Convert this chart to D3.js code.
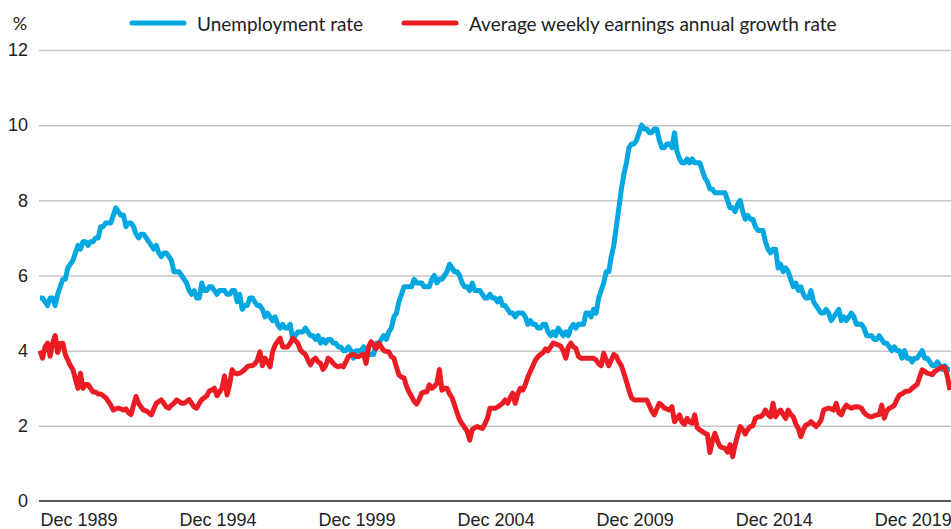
<!DOCTYPE html>
<html>
<head>
<meta charset="utf-8">
<script src="https://cdn.jsdelivr.net/npm/d3@7"></script>
<style>
  html, body { margin: 0; padding: 0; background: #fff; }
  svg { display: block; font-family: Lato, "Open Sans", sans-serif; }
  .grid line { stroke: #c6c6c6; stroke-width: 1.5; }
  .tick-label { font-size: 18px; fill: #222; }
  .legend-label { font-size: 19px; fill: #222; }
</style>
</head>
<body>
<div id="chart"></div>
<script>
// Monthly values, Dec 1989 .. Dec 2019 (361 months)
const seriesNames = ["Unemployment rate", "Average weekly earnings annual growth rate"];
const seriesColors = ["#00a7e1", "#ec1c24"];

const unemployment = [
  5.4,
  5.4, 5.3, 5.2, 5.4, 5.4, 5.2, 5.5, 5.7, 5.9, 5.9, 6.2, 6.3,
  6.4, 6.6, 6.8, 6.7, 6.9, 6.9, 6.8, 6.9, 6.9, 7.0, 7.0, 7.3,
  7.3, 7.4, 7.4, 7.4, 7.6, 7.8, 7.7, 7.6, 7.6, 7.3, 7.4, 7.4,
  7.3, 7.1, 7.0, 7.1, 7.1, 7.0, 6.9, 6.8, 6.7, 6.8, 6.6, 6.5,
  6.6, 6.6, 6.5, 6.4, 6.1, 6.1, 6.1, 6.0, 5.9, 5.8, 5.6, 5.5,
  5.6, 5.4, 5.4, 5.8, 5.6, 5.6, 5.7, 5.7, 5.6, 5.5, 5.6, 5.6,
  5.6, 5.5, 5.5, 5.6, 5.6, 5.3, 5.5, 5.1, 5.2, 5.2, 5.4, 5.4,
  5.3, 5.2, 5.2, 5.1, 4.9, 5.0, 4.9, 4.8, 4.9, 4.7, 4.6, 4.7,
  4.6, 4.6, 4.7, 4.3, 4.4, 4.5, 4.5, 4.5, 4.6, 4.5, 4.4, 4.4,
  4.3, 4.4, 4.2, 4.3, 4.2, 4.3, 4.3, 4.2, 4.2, 4.1, 4.1, 4.0,
  4.0, 4.1, 4.0, 3.8, 4.0, 4.0, 4.0, 4.1, 3.9, 3.9, 3.9, 3.9,
  4.2, 4.2, 4.3, 4.4, 4.3, 4.5, 4.6, 4.9, 5.0, 5.3, 5.5, 5.7,
  5.7, 5.7, 5.7, 5.9, 5.8, 5.8, 5.8, 5.7, 5.7, 5.7, 5.9, 6.0,
  5.8, 5.9, 5.9, 6.0, 6.1, 6.3, 6.2, 6.1, 6.1, 6.0, 5.8, 5.7,
  5.7, 5.6, 5.8, 5.6, 5.6, 5.6, 5.5, 5.4, 5.4, 5.5, 5.4, 5.4,
  5.3, 5.4, 5.2, 5.2, 5.1, 5.0, 5.0, 4.9, 5.0, 5.0, 5.0, 4.9,
  4.7, 4.8, 4.7, 4.7, 4.6, 4.6, 4.7, 4.7, 4.5, 4.4, 4.5, 4.4,
  4.6, 4.5, 4.4, 4.5, 4.4, 4.6, 4.7, 4.6, 4.7, 4.7, 4.7, 5.0,
  5.0, 4.9, 5.1, 5.0, 5.4, 5.6, 5.8, 6.1, 6.1, 6.5, 6.8, 7.3,
  7.8, 8.3, 8.7, 9.0, 9.4, 9.5, 9.5, 9.6, 9.8, 10.0, 9.9, 9.9,
  9.8, 9.8, 9.9, 9.9, 9.6, 9.4, 9.4, 9.5, 9.5, 9.4, 9.8, 9.3,
  9.1, 9.0, 9.0, 9.1, 9.0, 9.1, 9.0, 9.0, 9.0, 8.8, 8.6, 8.5,
  8.3, 8.3, 8.2, 8.2, 8.2, 8.2, 8.2, 8.0, 7.8, 7.8, 7.7, 7.9,
  8.0, 7.7, 7.5, 7.6, 7.5, 7.5, 7.3, 7.2, 7.2, 7.2, 6.9, 6.7,
  6.6, 6.7, 6.7, 6.2, 6.3, 6.1, 6.2, 6.1, 5.9, 5.7, 5.8, 5.6,
  5.7, 5.5, 5.4, 5.4, 5.6, 5.3, 5.2, 5.1, 5.0, 5.0, 5.1, 5.0,
  4.8, 4.9, 5.0, 5.1, 4.8, 4.9, 4.8, 4.9, 5.0, 4.9, 4.7, 4.7,
  4.7, 4.6, 4.4, 4.4, 4.4, 4.3, 4.3, 4.4, 4.3, 4.2, 4.2, 4.1,
  4.0, 4.1, 4.0, 4.0, 3.8, 4.0, 3.8, 3.8, 3.7, 3.8, 3.8, 3.9,
  4.0, 3.8, 3.8, 3.7, 3.6, 3.6, 3.7, 3.6, 3.5, 3.6, 3.5, 3.5
];

const earningsGrowth = [
  4.0,
  3.8, 4.1, 4.2, 3.85, 4.2, 4.4, 3.95, 4.2, 4.2, 3.9, 3.75, 3.6,
  3.5, 3.25, 3.0, 3.4, 3.0, 3.1, 3.1, 3.0, 2.9, 2.9, 2.85, 2.85,
  2.8, 2.75, 2.65, 2.55, 2.42, 2.45, 2.47, 2.45, 2.42, 2.45, 2.35, 2.3,
  2.55, 2.78, 2.6, 2.5, 2.42, 2.4, 2.35, 2.29, 2.45, 2.6, 2.65, 2.69,
  2.6, 2.5, 2.47, 2.55, 2.6, 2.69, 2.65, 2.6, 2.6, 2.65, 2.7, 2.6,
  2.5, 2.47, 2.6, 2.7, 2.75, 2.8, 2.93, 2.95, 3.0, 2.8, 2.9, 3.0,
  3.33, 2.82, 3.1, 3.49, 3.4, 3.38, 3.4, 3.44, 3.5, 3.57, 3.6, 3.6,
  3.65, 3.75, 3.97, 3.6, 3.8, 3.7, 3.57, 3.97, 4.15, 4.25, 4.33, 4.1,
  4.1, 4.1, 4.2, 4.33, 4.27, 4.2, 4.02, 3.95, 3.9, 3.75, 3.62, 3.75,
  3.8, 3.7, 3.66, 3.5, 3.6, 3.8, 3.75, 3.66, 3.6, 3.57, 3.6, 3.57,
  3.7, 3.84, 3.88, 3.9, 3.85, 3.84, 3.88, 3.9, 3.66, 4.1, 4.24, 4.15,
  4.05, 4.2, 4.1, 4.0, 3.98, 3.97, 3.84, 3.8, 3.57, 3.35, 3.3, 3.27,
  3.05, 2.9, 2.78, 2.65, 2.58, 2.7, 2.87, 2.9, 2.9, 3.09, 3.0, 3.05,
  3.13, 3.5, 2.95, 3.0, 3.0, 2.85, 2.75, 2.55, 2.35, 2.16, 2.05, 1.95,
  1.85, 1.62, 1.9, 1.95, 1.98, 1.95, 1.93, 2.05, 2.2, 2.47, 2.47, 2.47,
  2.5, 2.55, 2.6, 2.69, 2.6, 2.75, 2.87, 2.6, 2.85, 3.0, 2.95, 3.1,
  3.3, 3.45, 3.6, 3.75, 3.84, 3.9, 3.95, 4.05, 4.0, 4.1, 4.2, 4.18,
  4.15, 4.12, 4.0, 3.8, 4.1, 4.2, 4.1, 4.06, 3.85, 3.8, 3.8, 3.8,
  3.8, 3.8, 3.8, 3.75, 3.65, 3.6, 3.93, 3.75, 3.6, 3.75, 3.9, 3.85,
  3.7, 3.6, 3.4, 3.18, 2.95, 2.75, 2.69, 2.69, 2.69, 2.69, 2.69, 2.69,
  2.55, 2.4, 2.29, 2.45, 2.6, 2.55, 2.47, 2.45, 2.42, 2.51, 2.11, 2.2,
  2.29, 2.1, 2.04, 2.2, 2.1, 2.07, 2.29, 1.95, 1.89, 1.85, 1.8, 1.78,
  1.29, 1.6, 1.8, 1.6, 1.45, 1.42, 1.4, 1.3, 1.5, 1.18, 1.5, 1.75,
  1.98, 1.9, 1.78, 1.9, 1.98, 2.0, 2.2, 2.24, 2.24, 2.3, 2.42, 2.3,
  2.24, 2.6, 2.24, 2.35, 2.42, 2.3, 2.2, 2.42, 2.3, 2.24, 2.05, 1.93,
  1.71, 1.9, 2.02, 2.05, 2.11, 2.05, 1.98, 2.05, 2.15, 2.42, 2.45, 2.47,
  2.45, 2.42, 2.6, 2.35, 2.29, 2.45, 2.55, 2.5, 2.47, 2.5, 2.51, 2.5,
  2.47, 2.35, 2.29, 2.25, 2.24, 2.27, 2.29, 2.3, 2.55, 2.2, 2.4, 2.47,
  2.5, 2.55, 2.7, 2.82, 2.85, 2.9, 2.92, 2.93, 3.0, 3.05, 3.1, 3.3,
  3.49, 3.45, 3.4, 3.38, 3.36, 3.45, 3.49, 3.53, 3.57, 3.55, 3.3, 2.95
];

const yTicks = [0, 2, 4, 6, 8, 10, 12];
const xTickIndex = [0, 55, 110, 165, 220, 275, 330];
const xTickLabels = ["Dec 1989", "Dec 1994", "Dec 1999", "Dec 2004", "Dec 2009", "Dec 2014", "Dec 2019"];

const W = 951, H = 529;
const svg = d3.select("#chart").append("svg")
  .attr("width", W).attr("height", H);

const x = d3.scaleLinear()
  .domain([0, unemployment.length - 1])
  .range([40, 950]);

const y = d3.scaleLinear()
  .domain([0, 12])
  .range([501, 50]);

// ---- Gridlines + y labels ----
const yAxis = svg.append("g")
  .attr("class", "grid")
  .attr("transform", "translate(39,0)")
  .call(d3.axisLeft(y).tickValues(yTicks).tickSize(-(W - 39)).tickPadding(11));
yAxis.select(".domain").remove();
yAxis.selectAll("text").attr("class", "tick-label").attr("font-family", null).attr("font-size", null);
yAxis.selectAll(".tick").filter(d => d === 0).select("line").remove();

svg.append("text")
  .attr("class", "tick-label")
  .attr("x", 20).attr("y", 30)
  .attr("text-anchor", "middle")
  .text("%");

// ---- Lines ----
const line = d3.line()
  .x((d, i) => x(i))
  .y(d => y(d));

[unemployment, earningsGrowth].forEach((s, k) => {
  svg.append("path")
    .datum(s)
    .attr("fill", "none")
    .attr("stroke", seriesColors[k])
    .attr("stroke-width", 5)
    .attr("stroke-linejoin", "round")
    .attr("d", line);
});

// ---- X axis ----
const xAxis = svg.append("g")
  .attr("transform", `translate(0,${y(0)})`)
  .call(d3.axisBottom(x)
    .tickValues(xTickIndex)
    .tickSize(0)
    .tickPadding(12)
    .tickFormat((d, i) => xTickLabels[i]));
xAxis.select(".domain")
  .attr("d", `M39,0H${W}`)
  .attr("stroke", "#222")
  .attr("stroke-width", 1.6);
xAxis.selectAll("text")
  .attr("class", "tick-label")
  .attr("font-family", null).attr("font-size", null)
  .attr("text-anchor", "start");

// ---- Legend ----
const legendPos = [{ x: 130, tx: 197 }, { x: 402, tx: 469 }];
seriesNames.forEach((name, k) => {
  const g = svg.append("g");
  g.append("line")
    .attr("x1", legendPos[k].x + 2).attr("x2", legendPos[k].x + 54)
    .attr("y1", 23).attr("y2", 23)
    .attr("stroke", seriesColors[k])
    .attr("stroke-width", 5)
    .attr("stroke-linecap", "round");
  g.append("text")
    .attr("class", "legend-label")
    .attr("x", legendPos[k].tx).attr("y", 30.5)
    .text(name);
});
</script>
</body>
</html>
